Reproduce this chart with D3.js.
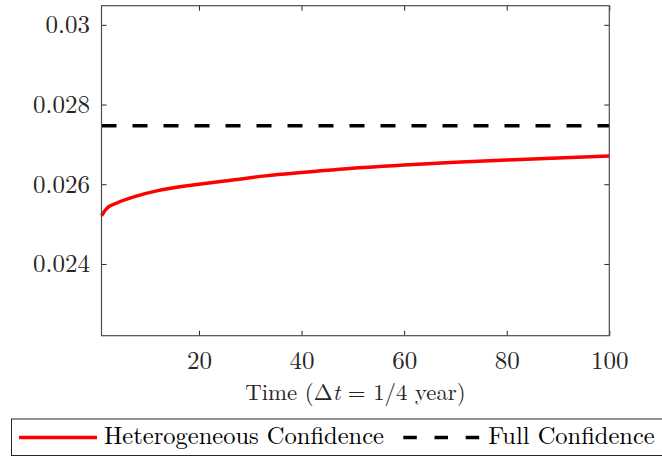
<!DOCTYPE html>
<html lang="en">
<head>
    <meta charset="UTF-8">
    <title>Heterogeneous vs Full Confidence</title>
    <script src="https://d3js.org/d3.v7.min.js"></script>
    <style>
        body { margin: 0; background: #fff; }
    </style>
</head>
<body>

    <svg id="svg" width="662" height="457"></svg>

    <script>
        // values
        const hetTime = [1, 2, 4, 8, 12, 16, 20, 25, 33, 46, 60, 70, 80, 90, 100];
        const hetValues = [0.02521, 0.02539, 0.02553, 0.02571, 0.02584, 0.02593, 0.02600, 0.02608,
                           0.02621, 0.02636, 0.02648, 0.02655, 0.02661, 0.02666, 0.02671];
        const fullTime = [1, 100];
        const fullValues = [0.02747, 0.02747];

        const xTicks = [20, 40, 60, 80, 100];
        const yTicks = [0.024, 0.026, 0.028, 0.03];
        const yTickLabels = ["0.024", "0.026", "0.028", "0.03"];
        const seriesNames = ["Heterogeneous Confidence", "Full Confidence"];

        const FONT = '"Latin Modern Roman", "Liberation Serif", serif';

        let svg = d3.select('svg');

        const plotLeft = 101.5, plotRight = 609.3, plotTop = 5.7, plotBottom = 335.7;

        let x = d3.scaleLinear().domain([1, 100]).range([plotLeft, plotRight]);
        let y = d3.scaleLinear().domain([0.0222, 0.03048]).range([plotBottom, plotTop]);

        // axes (ticks point inward, mirrored on top/right)
        const tickLen = 5;
        svg.append('g')
            .attr('transform', `translate(0,${plotBottom})`)
            .call(d3.axisBottom(x).tickValues(xTicks).tickSize(-tickLen).tickPadding(15.5).tickFormat(d => d));
        svg.append('g')
            .attr('transform', `translate(0,${plotTop})`)
            .call(d3.axisTop(x).tickValues(xTicks).tickSize(-tickLen).tickFormat(''));
        svg.append('g')
            .attr('transform', `translate(${plotLeft},0)`)
            .call(d3.axisLeft(y).tickValues(yTicks).tickSize(-tickLen).tickPadding(11.5)
                .tickFormat((d, i) => yTickLabels[i]));
        svg.append('g')
            .attr('transform', `translate(${plotRight},0)`)
            .call(d3.axisRight(y).tickValues(yTicks).tickSize(-tickLen).tickFormat(''));

        svg.selectAll('.domain').remove();
        svg.selectAll('.tick line').attr('stroke', '#262626').attr('stroke-width', 1);
        svg.selectAll('.tick text')
            .attr('fill', '#262626')
            .style('font-family', FONT)
            .style('font-size', '25px');

        // the line marks
        let line = d3.line().x(d => x(d[0])).y(d => y(d[1])).curve(d3.curveMonotoneX);

        svg.append('path')
            .datum(fullTime.map((t, i) => [t, fullValues[i]]))
            .attr('d', line)
            .attr('fill', 'none')
            .attr('stroke', '#000')
            .attr('stroke-width', 3.5)
            .attr('stroke-dasharray', '15,16');

        svg.append('path')
            .datum(hetTime.map((t, i) => [t, hetValues[i]]))
            .attr('d', line)
            .attr('fill', 'none')
            .attr('stroke', '#ff0000')
            .attr('stroke-width', 3.5);

        // box
        svg.append('rect')
            .attr('x', plotLeft).attr('y', plotTop)
            .attr('width', plotRight - plotLeft).attr('height', plotBottom - plotTop)
            .attr('fill', 'none')
            .attr('stroke', '#4d4d4d')
            .attr('stroke-width', 1.2);

        // x label
        let xl = svg.append('text')
            .attr('x', 355.5).attr('y', 400)
            .attr('text-anchor', 'middle')
            .attr('fill', '#262626')
            .style('font-family', FONT)
            .style('font-size', '22.8px');
        xl.append('tspan').text('Time (\u0394');
        xl.append('tspan').style('font-style', 'italic').text('t');
        xl.append('tspan').text(' = 1/4 year)');

        // legend
        let legend = svg.append('g');
        legend.append('rect')
            .attr('x', 11.5).attr('y', 419)
            .attr('width', 660).attr('height', 36.5)
            .attr('fill', '#fff')
            .attr('stroke', '#262626')
            .attr('stroke-width', 1);

        legend.append('line')
            .attr('x1', 19).attr('x2', 97).attr('y1', 437.5).attr('y2', 437.5)
            .attr('stroke', '#ff0000').attr('stroke-width', 3.5);
        legend.append('text')
            .attr('x', 104).attr('y', 444.3)
            .attr('fill', '#000')
            .style('font-family', FONT)
            .style('font-size', '24.5px')
            .text(seriesNames[0]);

        legend.append('line')
            .attr('x1', 403.3).attr('x2', 481).attr('y1', 437.5).attr('y2', 437.5)
            .attr('stroke', '#000').attr('stroke-width', 3.5)
            .attr('stroke-dasharray', '13.5,17.7');
        legend.append('text')
            .attr('x', 488.3).attr('y', 444.3)
            .attr('fill', '#000')
            .style('font-family', FONT)
            .style('font-size', '24.5px')
            .text(seriesNames[1]);
    </script>

</body>
</html>
